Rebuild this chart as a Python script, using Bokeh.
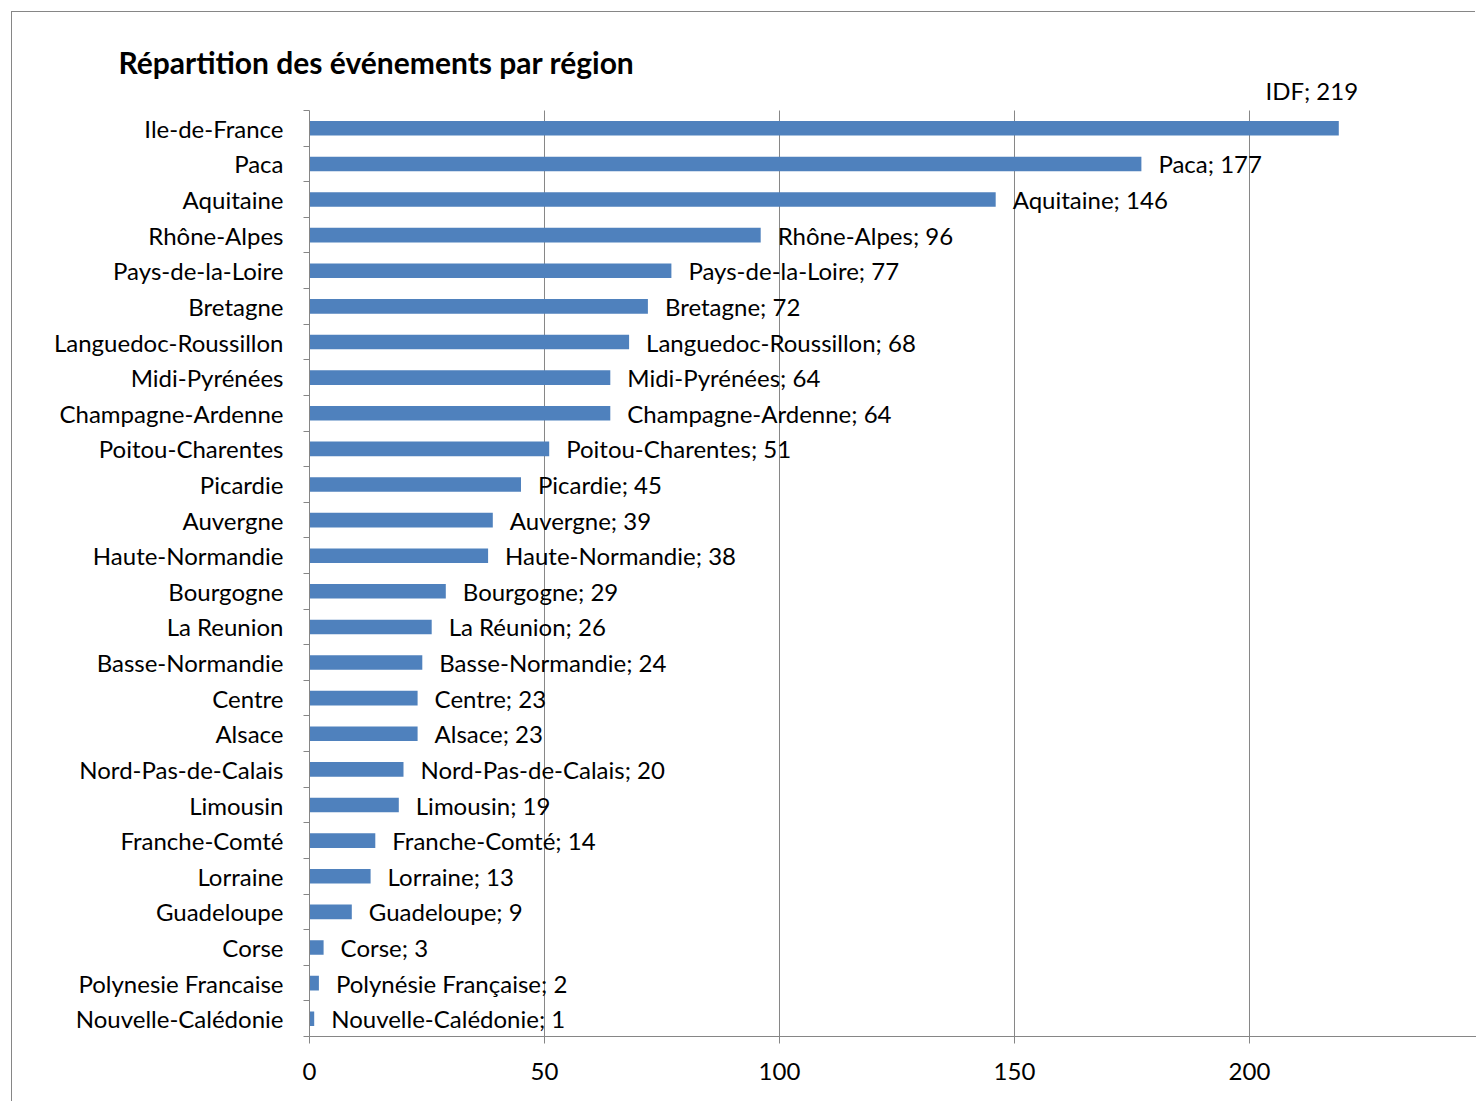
from bokeh.plotting import figure
from bokeh.models import Range1d, FixedTicker, ColumnDataSource
from bokeh.embed import file_html
from bokeh.resources import INLINE
from bokeh.core.properties import value

regions = ["Ile-de-France", "Paca", "Aquitaine", "Rhône-Alpes", "Pays-de-la-Loire",
           "Bretagne", "Languedoc-Roussillon", "Midi-Pyrénées", "Champagne-Ardenne",
           "Poitou-Charentes", "Picardie", "Auvergne", "Haute-Normandie", "Bourgogne",
           "La Reunion", "Basse-Normandie", "Centre", "Alsace", "Nord-Pas-de-Calais",
           "Limousin", "Franche-Comté", "Lorraine", "Guadeloupe", "Corse",
           "Polynesie Francaise", "Nouvelle-Calédonie"]
label_names = ["IDF", "Paca", "Aquitaine", "Rhône-Alpes", "Pays-de-la-Loire",
               "Bretagne", "Languedoc-Roussillon", "Midi-Pyrénées", "Champagne-Ardenne",
               "Poitou-Charentes", "Picardie", "Auvergne", "Haute-Normandie", "Bourgogne",
               "La Réunion", "Basse-Normandie", "Centre", "Alsace", "Nord-Pas-de-Calais",
               "Limousin", "Franche-Comté", "Lorraine", "Guadeloupe", "Corse",
               "Polynésie Française", "Nouvelle-Calédonie"]
counts = [219, 177, 146, 96, 77, 72, 68, 64, 64, 51, 45, 39, 38, 29, 26, 24, 23, 23,
          20, 19, 14, 13, 9, 3, 2, 1]
x_ticks = [0, 50, 100, 150, 200, 250]
grid_ticks = [50, 100, 150, 200]

FONT = "Lato"
GRAY = "#868686"
n = len(regions)
pos = [n - 1 - i for i in range(n)]
labels = [f"{nm}; {c}" for nm, c in zip(label_names, counts)]

src = ColumnDataSource(dict(pos=pos, count=counts, region=regions, label=labels))
src_rest = ColumnDataSource(dict(pos=pos[1:], count=counts[1:], label=labels[1:]))
src_top = ColumnDataSource(dict(pos=pos[:1], count=counts[:1], label=labels[:1]))
src_grid = ColumnDataSource(dict(g=grid_ticks))

# extra headroom above the first category so the "IDF" label stays inside the frame
p = figure(width=1464, height=1090,
           x_range=Range1d(0, 248.3), y_range=Range1d(-0.5, n - 0.5 + 0.955),
           output_backend="svg", toolbar_location=None,
           min_border_left=297, min_border_top=64, min_border_bottom=66,
           min_border_right=0)
p.margin = (12, 0, 0, 12)
p.styles = {"box-shadow": f"-1px -1px 0 0 {GRAY}"}
p.outline_line_color = None
p.background_fill_color = "white"
p.border_fill_color = "white"

p.title.text = "Répartition des événements par région"
p.title.text_font = FONT
p.title.text_font_style = "bold"
p.title.text_font_size = "30px"
p.title.align = "left"
p.title.offset = -191
p.title.standoff = -7
p.title.text_color = "black"

p.segment(x0="g", x1="g", y0=-0.5, y1=n - 0.5, line_color=GRAY, line_width=1,
          source=src_grid, level="underlay")

p.hbar(y="pos", left=0, right="count", height=0.41, fill_color="#4F81BD",
       line_color=None, source=src)

p.text(x="count", y="pos", text="label", x_offset=17, y_offset=0,
       text_baseline="middle", text_align="left", text_font=value(FONT),
       text_font_size="24px", text_color="black", source=src_rest)
p.text(x="count", y="pos", text="label", x_offset=-27, y_offset=-38,
       text_baseline="middle", text_align="center", text_font=value(FONT),
       text_font_size="24px", text_color="black", source=src_top)

p.xgrid.visible = False
p.ygrid.visible = False

xa = p.xaxis[0]
xa.ticker = FixedTicker(ticks=x_ticks)
xa.axis_line_color = GRAY
xa.major_tick_line_color = GRAY
xa.major_tick_out = 7
xa.major_tick_in = 0
xa.minor_tick_line_color = None
xa.major_label_standoff = 19
xa.major_label_text_font = FONT
xa.major_label_text_font_size = "24px"
xa.major_label_text_color = "black"

ya = p.yaxis[0]
ya.ticker = FixedTicker(ticks=pos, minor_ticks=[b - 0.5 for b in range(n + 1)])
ya.major_label_overrides = {pp: r for pp, r in zip(pos, regions)}
ya.bounds = (-0.5, n - 0.5)
ya.axis_line_color = GRAY
ya.major_tick_line_color = None
ya.major_tick_out = 0
ya.major_tick_in = 0
ya.minor_tick_line_color = GRAY
ya.minor_tick_out = 6
ya.minor_tick_in = 0
ya.major_label_standoff = 20
ya.major_label_text_font = FONT
ya.major_label_text_font_size = "24px"
ya.major_label_text_color = "black"

open("out.html", "w").write(file_html(p, INLINE))
